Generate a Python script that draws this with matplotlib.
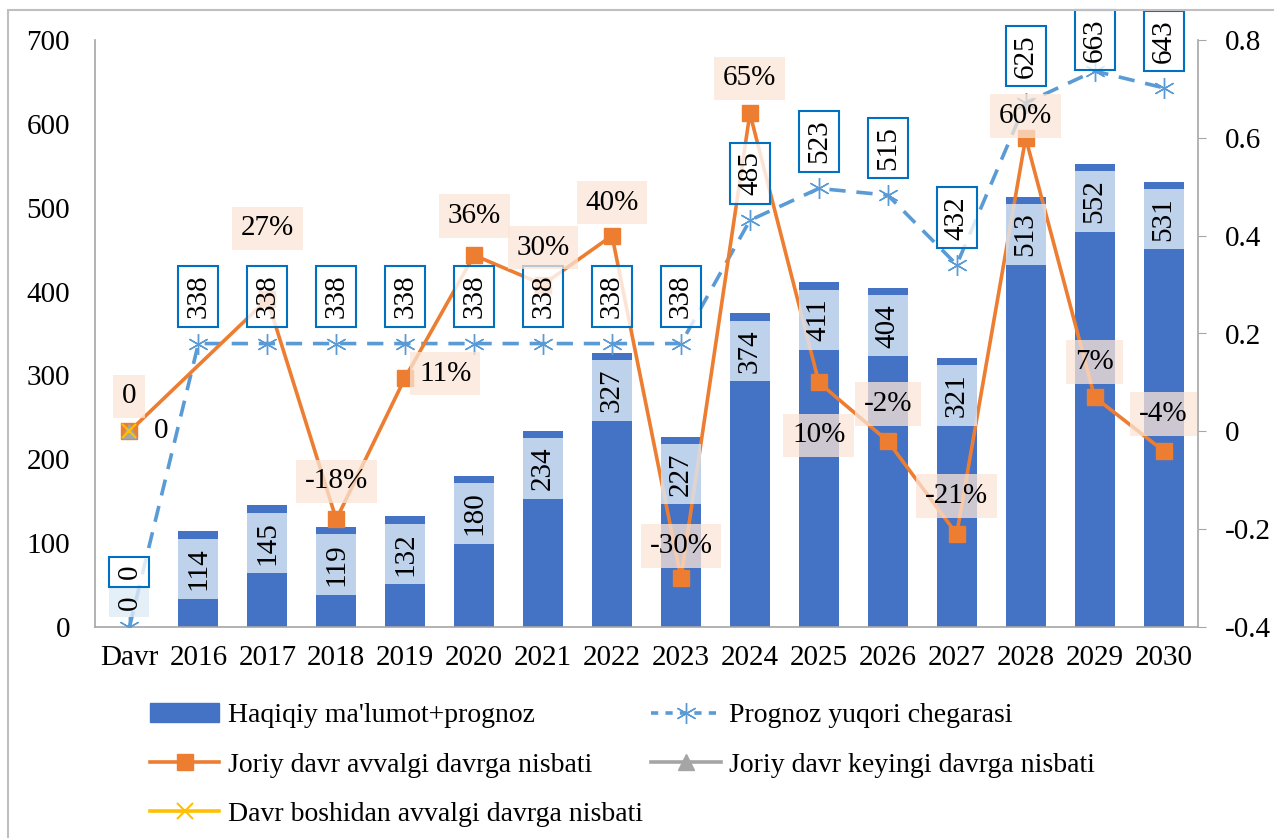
import matplotlib
matplotlib.use("Agg")
import matplotlib.pyplot as plt
from matplotlib.lines import Line2D
from matplotlib.patches import Patch, Rectangle
from matplotlib.ticker import FuncFormatter

plt.rcParams['font.family'] = ['Liberation Serif', 'DejaVu Serif']
plt.rcParams['font.size'] = 21

# ma'lumotlar
categories = ["Davr", "2016", "2017", "2018", "2019", "2020", "2021", "2022",
              "2023", "2024", "2025", "2026", "2027", "2028", "2029", "2030"]
actual = [0, 114, 145, 119, 132, 180, 234, 327, 227, 374, 411, 404, 321, 513, 552, 531]
upper = [0, 338, 338, 338, 338, 338, 338, 338, 338, 485, 523, 515, 432, 625, 663, 643]
ratio_prev = [0, None, 0.27, -0.18, 0.11, 0.36, 0.30, 0.40, -0.30, 0.65, 0.10,
              -0.02, -0.21, 0.60, 0.07, -0.04]
ratio_next = [0] + [None] * 15
ratio_start = [0] + [None] * 15

legend_labels = ["Haqiqiy ma'lumot+prognoz", "Prognoz yuqori chegarasi",
                 "Joriy davr avvalgi davrga nisbati", "Joriy davr keyingi davrga nisbati",
                 "Davr boshidan avvalgi davrga nisbati"]

# ranglar
c_bar = "#4472C4"
c_up = "#5B9BD5"
c_or = "#ED7D31"
c_gr = "#A5A5A5"
c_ye = "#FFC000"
c_spine = "#A6A6A6"

# yorliqlar siljishi (piksel)
or_offsets = {0: (0, 35), 2: (0, 71), 3: (0, 38), 4: (40, 4), 5: (0, 39), 6: (0, 37),
              7: (0, 33), 8: (0, 32), 9: (0, 35), 10: (0, -53), 11: (0, 37),
              12: (0, 38), 13: (0, 22), 14: (0, 35), 15: (0, 37)}

W, H = 1274, 838
AX_H = 627 - 40
BW = 0.58
fig = plt.figure(figsize=(W / 100, H / 100), dpi=100)
ax = fig.add_axes([95 / W, 1 - 627 / H, (1198 - 95) / W, AX_H / H])
ax2 = ax.twinx()

x = list(range(len(categories)))

ax.bar(x, actual, width=BW, color=c_bar, zorder=2)
ax.plot(x, upper, color=c_up, lw=2.6, ls=(0, (4.5, 3)), marker=(6, 2, 0),
        ms=15, mew=1.0, zorder=3)

xo = [i for i, v in zip(x, ratio_prev) if v is not None]
yo = [v for v in ratio_prev if v is not None]
ax2.plot(xo, yo, color=c_or, lw=2.6, marker='s', ms=11, zorder=3)
ax2.plot([i for i, v in zip(x, ratio_next) if v is not None],
         [v for v in ratio_next if v is not None],
         color=c_gr, lw=2.6, marker='^', ms=10, zorder=4)
ax2.plot([i for i, v in zip(x, ratio_start) if v is not None],
         [v for v in ratio_start if v is not None],
         color=c_ye, lw=2.6, marker='x', ms=10, mew=1.5, zorder=5)

ax.set_xlim(-0.5, len(categories) - 0.5)
ax.set_ylim(0, 700)
ax.set_yticks(range(0, 701, 100))
ax2.set_ylim(-0.4, 0.8)
ax2.set_yticks([-0.4, -0.2, 0, 0.2, 0.4, 0.6, 0.8])
ax2.yaxis.set_major_formatter(FuncFormatter(lambda v, p: f"{round(v, 1):g}"))
ax.set_xticks(x)
ax.set_xticklabels(categories)

ax.tick_params(axis='y', length=0, pad=18)
ax.tick_params(axis='x', length=0, pad=13)
ax2.tick_params(axis='y', length=6, pad=13, color=c_spine)

for s in ["top", "right"]:
    ax.spines[s].set_visible(False)
for s in ["top", "left", "bottom"]:
    ax2.spines[s].set_visible(False)
for a, s in [(ax, "left"), (ax, "bottom"), (ax2, "right")]:
    a.spines[s].set_color(c_spine)
    a.spines[s].set_linewidth(1.2)

px = 700 / AX_H  # chap o'q birligi / piksel


def vlabel(i, v, dy, fc, ec, z):
    # vertikal yorliq: matn + to'rtburchak quti
    s = str(v)
    h = (14 + 15.5 * len(s)) * px
    yc = v + dy * px
    ax2.add_patch(Rectangle((i - BW / 2, yc - h / 2), BW, h, transform=ax.transData,
                            fc=fc, ec=ec, lw=1.5, zorder=z, clip_on=False))
    ax2.text(i, yc, s, transform=ax.transData, rotation=90, ha='center',
             va='center', rotation_mode='anchor', zorder=z + 0.5)


for i, v in enumerate(actual):
    vlabel(i, v, 24.5 if v == 0 else -37.5, (0.87, 0.92, 0.97, 0.8), 'none', 10)

for i, v in enumerate(upper):
    dy = 55 if v == 0 else 47
    if i == 14:
        dy = 31
    vlabel(i, v, dy, (1, 1, 1, 0.8), '#0070C0', 11)

# nisbat yorliqlari
for i, v in enumerate(ratio_prev):
    if v is None:
        continue
    txt = "0" if i == 0 else f"{round(v * 100):d}%"
    dx, dy = or_offsets[i]
    ax2.annotate(txt, xy=(i, v), xytext=(dx, dy), textcoords='offset pixels',
                 ha='center', va='center', zorder=12,
                 bbox=dict(boxstyle='square,pad=0.3', fc=(0.984, 0.898, 0.839, 0.75), ec='none'))

ax2.annotate("0", xy=(0, ratio_next[0]), xytext=(32, 0), textcoords='offset pixels',
             ha='center', va='center', zorder=12)

# ramka
fig.patches.append(Rectangle((8 / W, -0.1), 1.2, 1.1 - 10 / H, transform=fig.transFigure,
                             fill=False, ec="#BFBFBF", lw=1.5))

handles = [
    Patch(color=c_bar),
    Line2D([], [], color=c_or, lw=2.6, marker='s', ms=11),
    Line2D([], [], color=c_ye, lw=2.6, marker='x', ms=11, mew=1.5),
    Line2D([], [], color=c_up, lw=2.6, ls=(0, (2, 2)), marker=(6, 2, 0), ms=15, mew=1.0),
    Line2D([], [], color=c_gr, lw=2.6, marker='^', ms=11),
]
labels = [legend_labels[0], legend_labels[2], legend_labels[4], legend_labels[1], legend_labels[3]]
fig.legend(handles, labels, loc='upper left', bbox_to_anchor=(150 / W, 1 - 703 / H),
           ncol=2, frameon=False, handlelength=2.5, handletextpad=0.3,
           columnspacing=0.3, labelspacing=0.85, borderpad=0, borderaxespad=0,
           fontsize=20)

fig.savefig("out.png", dpi=100)
